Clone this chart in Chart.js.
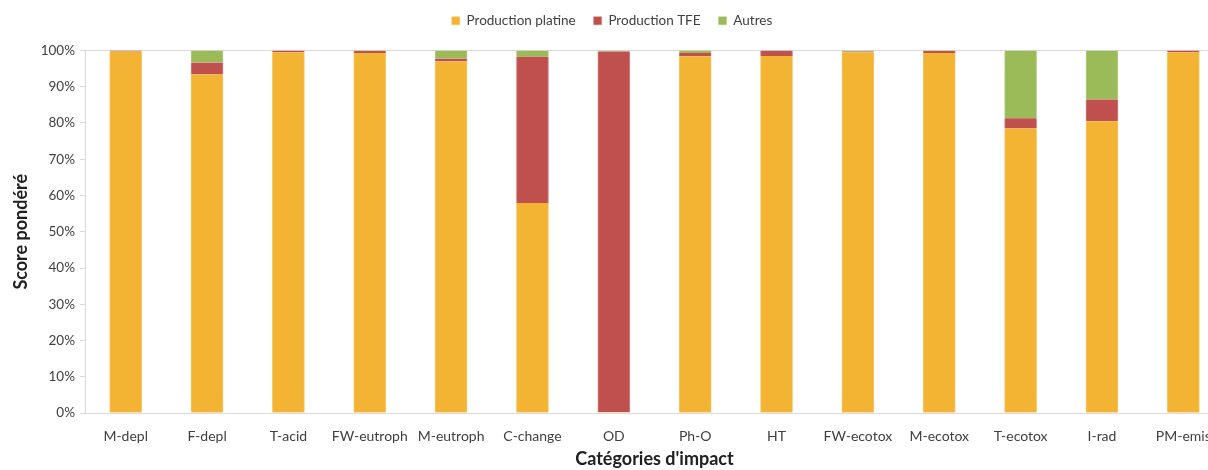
<!DOCTYPE html>
<html>
<head>
<meta charset="utf-8">
<script src="https://cdn.jsdelivr.net/npm/chart.js@4/dist/chart.umd.min.js"></script>
<style>
html,body{margin:0;padding:0;background:#fff;overflow:hidden;}
#wrap{position:relative;width:1224px;height:470px;}
</style>
</head>
<body>
<div id="wrap"><canvas id="c"></canvas></div>
<script>
const categories = ["M-depl","F-depl","T-acid","FW-eutroph","M-eutroph","C-change","OD","Ph-O","HT","FW-ecotox","M-ecotox","T-ecotox","I-rad","PM-emis"];
const productionPlatine = [99.7, 93.4, 99.5, 99.3, 97.0, 57.9, 0.3, 98.4, 98.5, 99.5, 99.3, 78.5, 80.5, 99.5];
const productionTFE     = [0.3, 3.3, 0.5, 0.6, 0.8, 40.4, 99.4, 0.9, 1.5, 0.2, 0.6, 2.8, 6.0, 0.5];
const autres            = [0.0, 3.3, 0.0, 0.1, 2.2, 1.7, 0.3, 0.7, 0.0, 0.3, 0.1, 18.7, 13.5, 0.0];
const yTicks = [0,10,20,30,40,50,60,70,80,90,100];

const FONT = "Lato, 'Open Sans', sans-serif";
const legendSpacer = {
  id: 'legendSpacer',
  beforeLayout(chart) {
    const lg = chart.legend;
    if (lg && !lg._patched) {
      const f = lg.fit.bind(lg);
      lg.fit = function() { f(); this.height += 13; };
      lg._patched = true;
    }
  }
};
new Chart(document.getElementById('c'), {
  type: 'bar',
  plugins: [legendSpacer],
  data: {
    labels: categories,
    datasets: [
      {label: 'Production platine', data: productionPlatine, backgroundColor: '#F3B333', borderColor:'#F6C560', borderWidth:{left:1,right:1,top:0,bottom:0}},
      {label: 'Production TFE', data: productionTFE, backgroundColor: '#C0504D', borderColor:'#CF7E7C', borderWidth:{left:1,right:1,top:0,bottom:0}},
      {label: 'Autres', data: autres, backgroundColor: '#9BBB59', borderColor:'#B5CD86', borderWidth:{left:1,right:1,top:0,bottom:0}}
    ]
  },
  options: {
    responsive: true,
    maintainAspectRatio: false,
    animation: false,
    layout: {padding: {top: -4, right: 0, left: 0, bottom: 0}},
    datasets: {bar: {barThickness: 32, categoryPercentage: 1}},
    plugins: {
      legend: {
        position: 'top',
        labels: {boxWidth: 8, boxHeight: 8, padding: 18, color: '#404040', font: {family: FONT, size: 13.5}}
      },
      tooltip: {enabled: false}
    },
    scales: {
      x: {
        stacked: true,
        grid: {display: false},
        border: {display: true, color: '#d9d9d9', width: 1},
        ticks: {color: '#404040', font: {family: FONT, size: 14}, padding: 7, maxRotation: 0, autoSkip: false},
        title: {display: true, text: "Catégories d'impact", color: '#202020', font: {family: FONT, size: 18, weight: 'bold'}, padding: {top: 0, bottom: 0}},
        afterFit: s => { s.height = 57; }
      },
      y: {
        stacked: true,
        min: 0, max: 100,
        afterBuildTicks: s => { s.ticks = yTicks.map(v => ({value: v})); },
        grid: {
          color: ctx => (ctx.tick && ctx.tick.value === 100) ? '#d9d9d9' : 'rgba(0,0,0,0)',
          tickColor: '#d9d9d9', tickLength: 5, drawTicks: true
        },
        border: {display: true, color: '#d9d9d9', width: 1},
        ticks: {color: '#404040', font: {family: FONT, size: 13.5}, padding: 5, callback: v => v + '%'},
        title: {display: true, text: 'Score pondéré', color: '#202020', font: {family: FONT, size: 18, weight: 'bold'}, padding: {top: 10, bottom: 6}},
        afterFit: s => { s.width = 85; }
      }
    }
  }
});
</script>
</body>
</html>
